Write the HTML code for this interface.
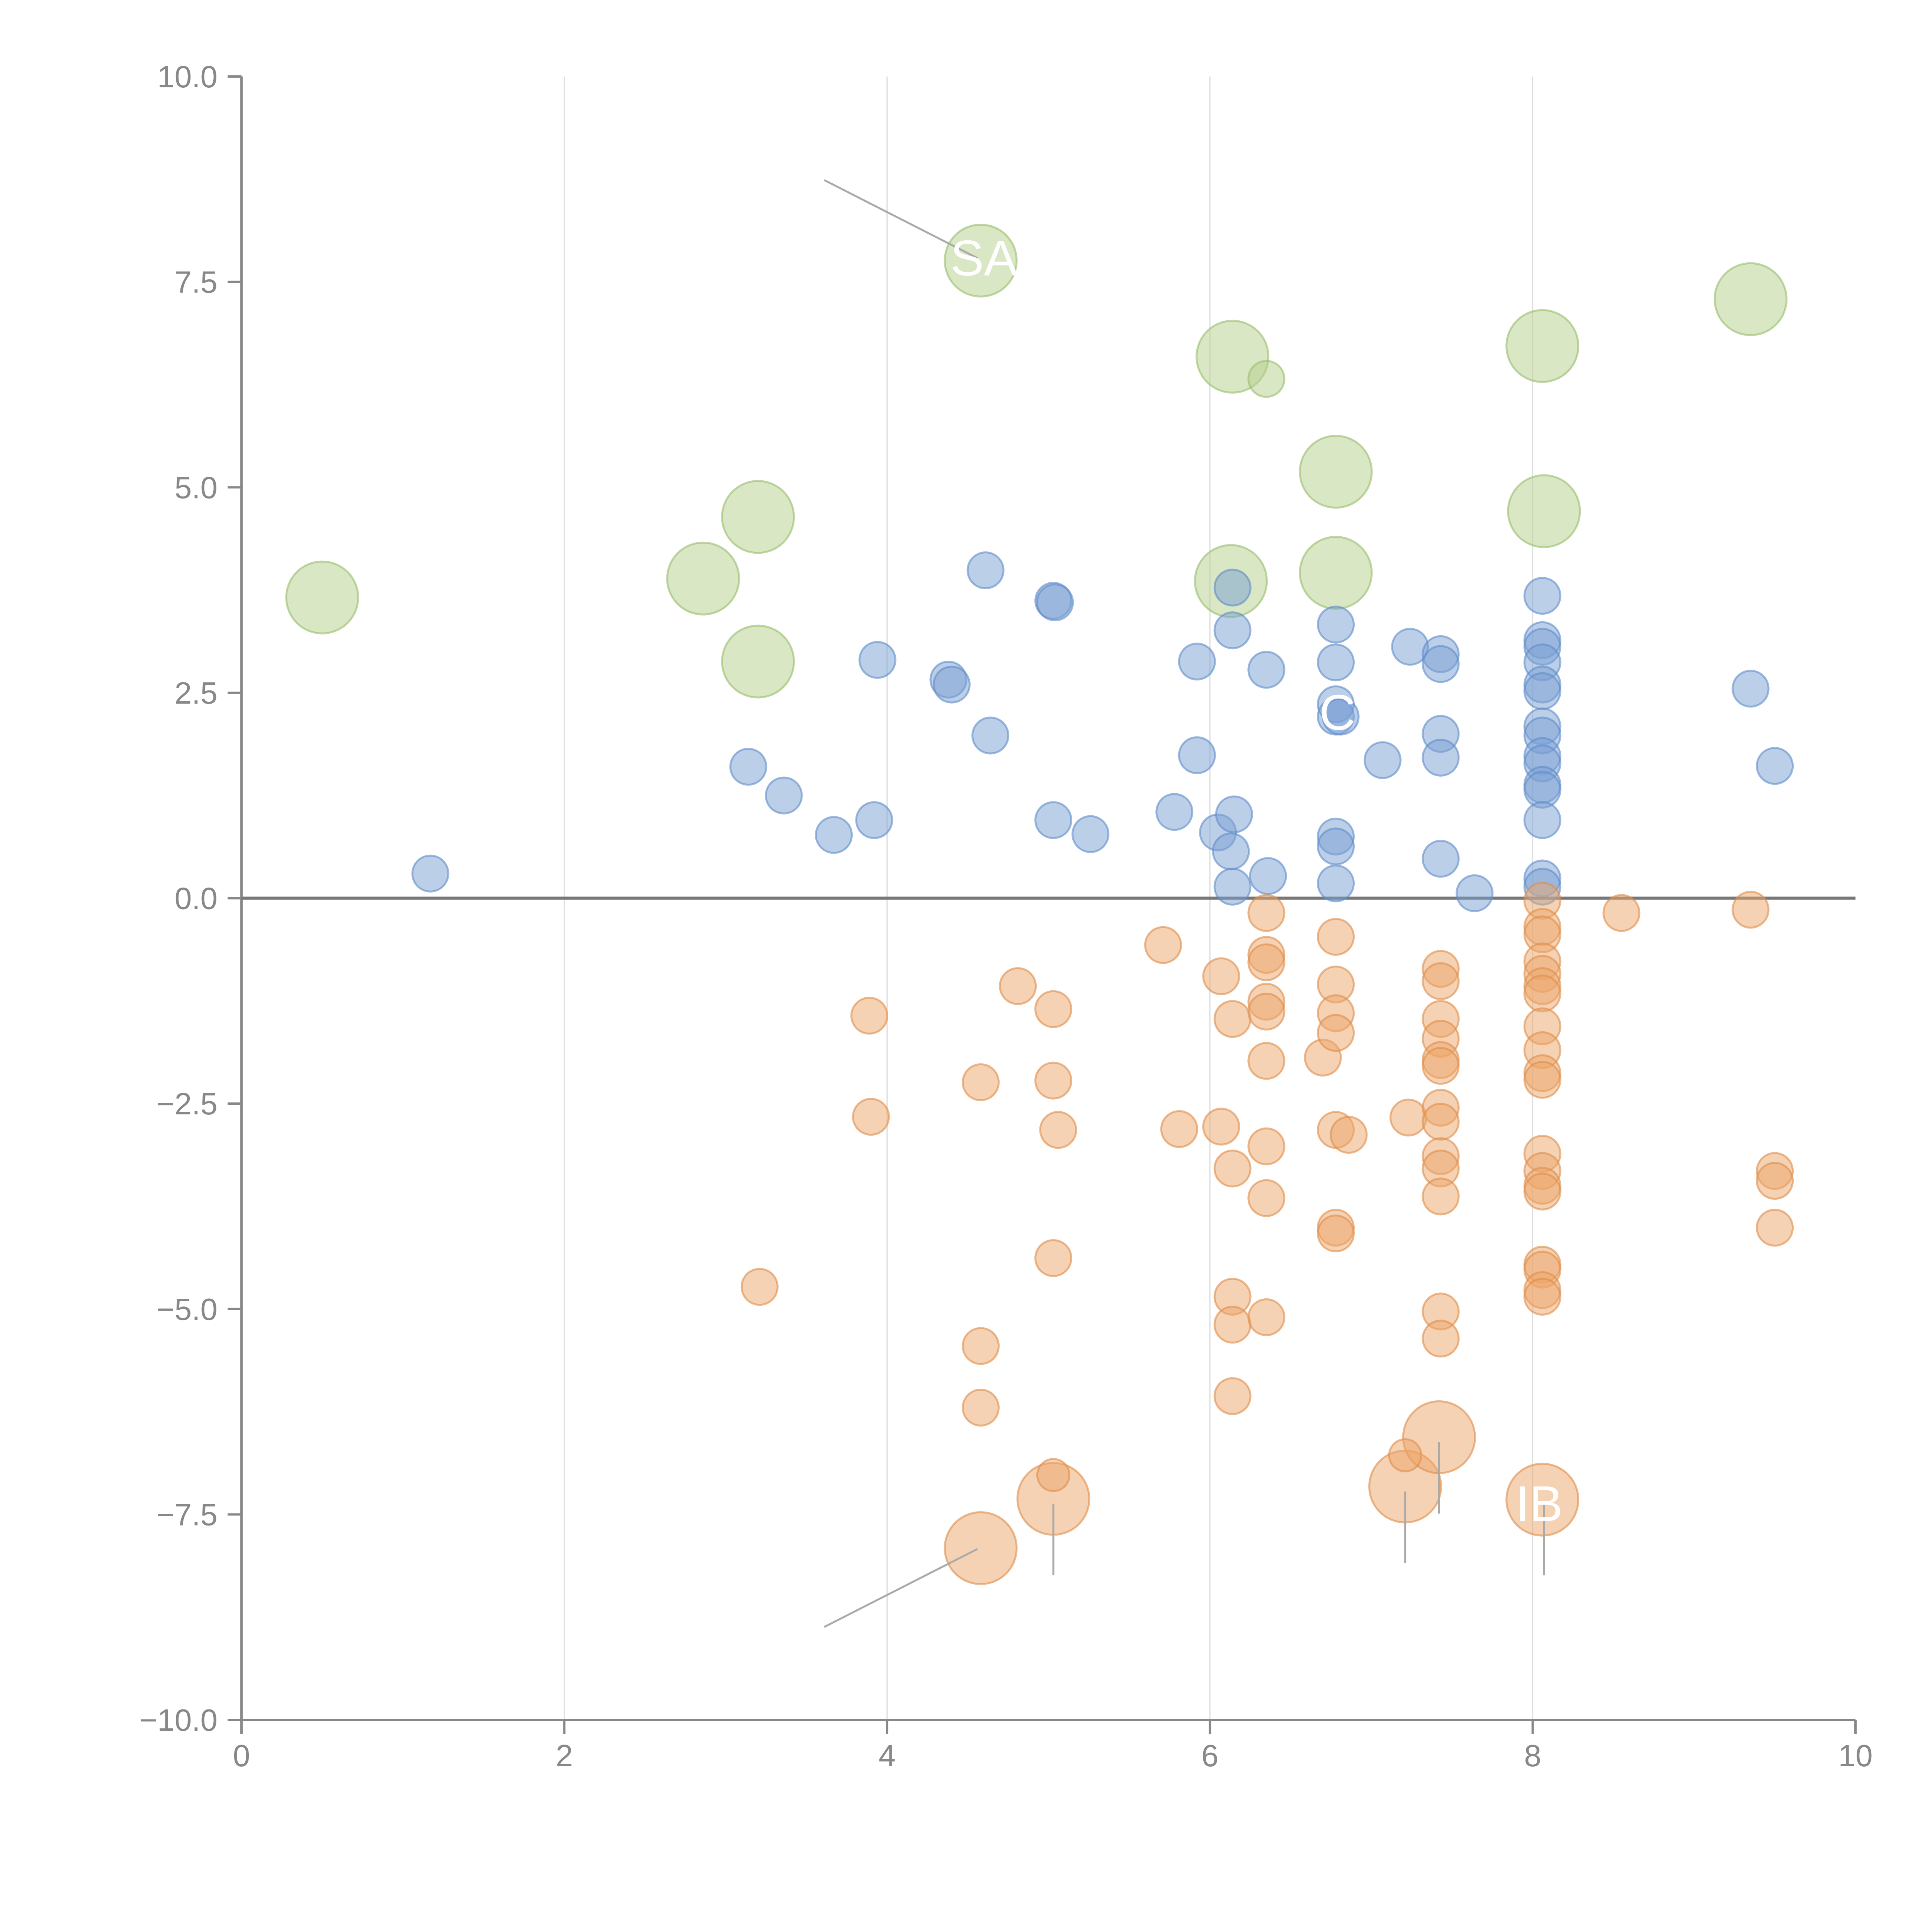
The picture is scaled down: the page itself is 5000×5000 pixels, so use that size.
<!DOCTYPE html>
<html><head><meta charset="utf-8"><style>html,body{margin:0;padding:0;background:#fff}svg{display:block}</style></head>
<body>
<svg id="chart" width="5000" height="5000" viewBox="0 0 5000 5000" xmlns="http://www.w3.org/2000/svg" font-family="Liberation Sans, sans-serif"></svg>
<script>
const xTicks=[0,2,4,6,8,10];
const xTickLabels=["0","2","4","6","8","10"];
const yTicks=[-10,-7.5,-5,-2.5,0,2.5,5,7.5,10];
const yTickLabels=["\u221210.0","\u22127.5","\u22125.0","\u22122.5","0.0","2.5","5.0","7.5","10.0"];
const greenX=[0.50,2.86,3.20,3.20,4.58,6.14,6.35,6.13,6.78,6.78,8.06,8.07,9.35];
const greenY=[3.66,3.89,4.64,2.88,7.76,6.59,6.32,3.86,5.19,3.96,6.72,4.71,7.29];
const greenS=[4,4,4,4,4,4,1,4,4,4,4,4,4];
const blueX=[1.17,3.14,3.36,3.67,3.92,3.94,4.38,4.40,4.61,4.64,5.03,5.04,5.03,5.26,5.78,5.92,5.92,6.05,6.13,6.14,6.15,6.14,6.14,6.35,6.36,6.78,6.78,6.78,6.78,6.81,6.78,6.78,6.78,7.07,7.24,7.43,7.43,7.43,7.43,7.43,7.64,8.06,8.06,8.06,8.06,8.06,8.06,8.06,8.06,8.06,8.06,8.06,8.06,8.06,8.06,8.06,9.35,9.50];
const blueY=[0.30,1.60,1.25,0.77,0.95,2.90,2.66,2.60,3.99,1.98,3.62,3.60,0.95,0.78,1.05,1.74,2.88,0.80,0.57,3.26,1.02,0.14,3.78,2.78,0.27,3.33,2.87,2.36,2.21,2.21,0.75,0.63,0.18,1.68,3.06,2.97,2.85,2.00,1.71,0.48,0.06,3.68,3.14,3.06,2.87,2.60,2.52,2.09,1.98,1.73,1.64,1.38,1.32,0.95,0.24,0.14,2.55,1.61];
const orangeX=[3.89,3.90,3.21,4.58,4.58,4.58,4.81,5.03,5.03,5.03,5.06,5.71,5.81,6.07,6.07,6.14,6.14,6.14,6.14,6.14,6.35,6.35,6.35,6.35,6.35,6.35,6.35,6.35,6.35,6.70,6.78,6.78,6.78,6.78,6.78,6.78,6.78,6.86,7.23,7.43,7.43,7.43,7.43,7.43,7.43,7.43,7.43,7.43,7.43,7.43,7.43,7.43,8.06,8.06,8.06,8.06,8.06,8.06,8.06,8.06,8.06,8.06,8.06,8.06,8.06,8.06,8.06,8.06,8.06,8.06,8.06,8.55,9.35,9.50,9.50,9.50,4.58,5.03,7.21,7.42,8.06,5.03,7.21];
const orangeY=[-1.43,-2.66,-4.73,-2.24,-5.45,-6.20,-1.07,-1.35,-2.22,-4.38,-2.82,-0.57,-2.81,-0.95,-2.78,-1.47,-3.29,-4.85,-5.19,-6.06,-0.18,-0.69,-0.78,-1.26,-1.38,-1.98,-3.02,-3.65,-5.10,-1.94,-0.47,-1.05,-1.40,-1.64,-2.82,-4.01,-4.08,-2.88,-2.67,-0.86,-1.01,-1.47,-1.71,-1.97,-2.04,-2.55,-2.72,-3.14,-3.29,-3.63,-5.03,-5.36,-0.03,-0.35,-0.44,-0.77,-0.92,-1.07,-1.16,-1.56,-1.85,-2.13,-2.21,-3.11,-3.32,-3.50,-3.57,-4.46,-4.52,-4.77,-4.85,-0.18,-0.14,-3.32,-3.44,-4.01,-7.91,-7.31,-7.16,-6.56,-7.32,-7.02,-6.78];
const orangeS=[1,1,1,1,1,1,1,1,1,1,1,1,1,1,1,1,1,1,1,1,1,1,1,1,1,1,1,1,1,1,1,1,1,1,1,1,1,1,1,1,1,1,1,1,1,1,1,1,1,1,1,1,1,1,1,1,1,1,1,1,1,1,1,1,1,1,1,1,1,1,1,1,1,1,1,1,4,4,4,4,4,0.8,0.8];

const NS='http://www.w3.org/2000/svg';
const svg=document.getElementById('chart');
const X0=625,X1=4802,YT=198,YB=4451;
function sx(v){return X0+(v-0)/(10-0)*(X1-X0);}
function sy(v){return YB-(v+10)/20*(YB-YT);}
function rr(s){return 46.5*Math.sqrt(s);}
function mk(tag,attrs,parent){const e=document.createElementNS(NS,tag);for(const k in attrs)e.setAttribute(k,attrs[k]);(parent||svg).appendChild(e);return e;}

const grid=mk('g',{});


[2,4,6,8].forEach(v=>{const l=mk('line',{x1:sx(v),x2:sx(v),y1:YT,y2:YB,stroke:'#dcdcdc','stroke-width':3},grid);

});

const ax=mk('g',{});


mk('line',{x1:X0,x2:X0,y1:YT,y2:YB,stroke:'#888','stroke-width':6},ax);
mk('line',{x1:X0,x2:X1,y1:YB,y2:YB,stroke:'#888','stroke-width':6},ax);
xTicks.forEach((v,i)=>{
  const t=mk('line',{x1:sx(v),x2:sx(v),y1:YB,y2:YB+36,stroke:'#888','stroke-width':6},ax);
  
  
  const tx=mk('text',{x:sx(v),y:YB+120,'text-anchor':'middle','font-size':80,fill:'#888'},ax);
  tx.textContent=xTickLabels[i];
  
  
});
yTicks.forEach((v,i)=>{
  const t=mk('line',{x1:X0-36,x2:X0,y1:sy(v),y2:sy(v),stroke:'#888','stroke-width':6},ax);
  
  
  const tx=mk('text',{x:X0-62,y:sy(v)+28,'text-anchor':'end','font-size':80,fill:'#888'},ax);
  tx.textContent=yTickLabels[i];
  
  
});
const zl=mk('line',{x1:X0,x2:X1,y1:sy(0),y2:sy(0),stroke:'#777','stroke-width':8});



function series(xs,ys,ss,fill,stroke,name){
  const g=mk('g',{});
  
  
  xs.forEach((x,i)=>{
    const c=mk('circle',{cx:sx(x),cy:sy(ys[i]),r:rr(ss?ss[i]:1),fill:fill,'fill-opacity':0.5,stroke:stroke,'stroke-opacity':0.6,'stroke-width':5},g);
    
    
  });
}
series(greenX,greenY,greenS,'#b3d08a','#98bd6a','green');
series(blueX,blueY,null,'#7a9fd4','#5f8cc9','blue');
series(orangeX,orangeY,orangeS,'#eba66a','#e08c48','orange');

const ann=mk('g',{});


const annLines=[[3.61,8.74,4.56,7.79],[3.61,-8.87,4.56,-7.92],[5.03,-7.37,5.03,-8.24],[7.21,-7.22,7.21,-8.09],[7.42,-6.62,7.42,-7.49],[8.07,-7.37,8.07,-8.24]];
annLines.forEach(a=>{const l=mk('line',{x1:sx(a[0]),y1:sy(a[1]),x2:sx(a[2]),y2:sy(a[3]),stroke:'#aaa','stroke-width':5},ann);

});
[['SA',4.60,7.58],['IB',8.04,-7.58],['C',6.79,2.05]].forEach(a=>{
  const t=mk('text',{x:sx(a[1]),y:sy(a[2]),'text-anchor':'middle','font-size':130,fill:'#fff'},ann);
  t.textContent=a[0];
  
  
});
</script>
</body></html>
